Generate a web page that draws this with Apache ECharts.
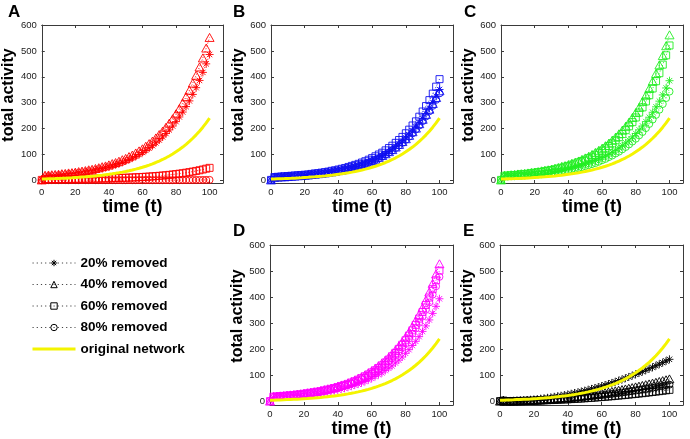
<!DOCTYPE html>
<html><head><meta charset="utf-8">
<script src="https://cdn.jsdelivr.net/npm/echarts@6/dist/echarts.min.js"></script>
<style>html,body{margin:0;padding:0;background:#fff}#c{width:690px;height:439px}</style>
</head><body><div id="c"></div>
<script>
// ---------------- data ----------------
const timeSteps = [0,2,4,6,8,10,12,14,16,18,20,22,24,26,28,30,32,34,36,38,40,42,44,46,48,50,52,54,56,58,60,62,64,66,68,70,72,74,76,78,80,82,84,86,88,90,92,94,96,98,100];
const xTickValues = [0,20,40,60,80,100];
const yTickValues = [0,100,200,300,400,500,600];
const legendNames = ['20% removed','40% removed','60% removed','80% removed'];
const originalName = 'original network';
const panelLetters = ['A','B','C','D','E'];

const original = [5.3,5.6,6.1,6.5,7.0,7.6,8.1,8.8,9.5,10.2,11.0,11.8,12.8,13.8,14.9,16.0,17.3,18.7,20.1,21.8,23.5,25.4,27.4,29.6,32.0,34.5,37.3,40.3,43.5,47.0,50.8,54.8,59.3,64.0,69.2,74.8,80.8,87.3,94.4,102.0,110.3,119.2,128.8,139.3,150.5,162.7,175.9,190.1,205.5,222.1,240.1];

const a20 = [2,17,18,19,20,21,23,24,25,27,28,30,32,34,36,38,41,44,46,50,53,57,61,65,70,75,81,87,93,100,108,116,125,134,145,156,168,181,195,210,227,245,264,285,307,332,358,386,417,450,486];
const a40 = [2,20,21,22,23,24,26,27,29,30,32,34,36,38,41,43,46,49,53,56,60,65,69,74,80,85,92,98,106,114,122,132,142,152,164,177,190,205,221,238,257,277,299,323,348,376,406,438,473,511,552];
const a60 = [2,5.0,5.1,5.1,5.2,5.3,5.4,5.6,5.7,5.8,6.0,6.1,6.3,6.5,6.7,6.9,7.1,7.4,7.7,8.0,8.3,8.6,9.0,9.4,9.9,10.3,10.8,11.4,12.0,12.6,13.3,14.1,14.9,15.8,16.8,17.8,18.9,20.1,21.4,22.9,24.4,26.0,27.8,29.8,31.9,34.1,36.6,39.2,42.1,45.2,48.5];
const a80 = [0.5,1,1,1,1,1,1,1,1,1,1,1,1,1,1,1,1,1,1,1,1,1,1,1,1,1,1,1,1,1,1,1,1,1,1,1,1,1,1,1,1,1.1,1.2,1.3,1.4,1.5,1.6,1.7,1.8,1.9,2.0];

const b20 = [2,13,13,14,15,15,16,17,18,19,20,22,23,24,26,28,29,31,34,36,38,41,44,47,51,54,58,63,67,72,78,84,90,97,104,112,121,131,141,152,164,176,190,205,222,239,258,279,301,325,351];
const b40 = [2,12,13,14,14,15,16,17,18,19,20,21,23,24,26,27,29,31,33,35,38,40,43,46,50,53,57,62,66,71,77,82,89,96,103,111,119,129,139,150,161,174,188,202,219,236,255,275,297,320,346];
const b60 = [2,13,14,15,16,17,18,19,20,21,22,23,25,27,28,30,32,34,37,39,42,45,48,52,56,60,64,69,74,80,86,93,100,107,116,125,134,145,156,168,182,196,212,228,246,266,287,310,335,362,391];
const b80 = [2,12,13,13,14,15,16,17,18,18,20,21,22,24,25,27,28,30,32,35,37,40,42,45,49,52,56,60,65,69,75,80,86,93,100,108,116,125,135,145,157,169,182,197,212,229,247,267,288,311,336];

const c20 = [2,17,18,19,19,20,21,22,23,24,26,27,28,30,32,34,35,38,40,42,45,48,51,55,58,62,67,72,77,82,88,94,101,109,117,126,135,145,156,168,181,195,210,227,244,263,284,306,330,357,385];
const c40 = [2,20,21,22,23,25,26,27,29,31,32,34,37,39,41,44,47,50,54,57,61,66,70,75,81,87,93,100,108,116,124,134,144,155,167,180,194,209,225,243,262,282,305,329,355,383,413,446,482,520,562];
const c60 = [2,18,19,20,21,22,24,25,26,28,30,32,33,36,38,40,43,46,49,53,56,61,65,70,75,80,86,92,99,107,115,124,133,143,155,167,179,194,209,225,243,262,282,305,329,355,383,414,447,483,521];
const c80 = [2,14,15,16,16,17,18,19,20,21,22,23,24,26,27,29,31,33,35,37,39,42,45,48,51,55,59,63,67,72,78,83,90,96,104,111,120,129,139,150,161,174,187,202,218,235,253,273,295,318,343];

const d20 = [2,16,17,18,19,20,21,22,23,24,25,26,28,30,31,33,35,37,40,42,45,48,51,55,59,63,67,72,77,83,89,96,103,110,119,128,137,148,159,171,185,199,215,231,249,269,290,313,338,365,394];
const d40 = [2,20,21,22,23,25,26,27,29,30,32,34,36,38,40,43,46,49,52,55,59,63,67,72,77,83,89,95,102,110,118,127,137,147,158,170,183,197,213,229,247,266,287,310,334,360,389,420,453,489,528];
const d60 = [2,19,20,21,22,23,24,25,27,28,30,32,34,36,38,40,43,46,49,52,56,60,64,68,73,78,84,90,97,104,112,120,129,139,150,161,174,187,202,218,235,253,273,294,318,343,370,399,431,465,502];
const d80 = [2,18,19,20,21,22,23,24,26,27,29,30,32,34,36,39,41,44,47,50,53,57,61,65,70,75,80,86,92,99,107,115,123,133,143,154,166,178,192,207,223,241,260,280,302,326,352,380,410,442,478];

const e20 = [2,5,2.3,2.6,3.0,3.6,4.3,5.1,6.1,7.2,8.4,9.7,11.2,12.8,14.5,16.4,18.4,20.5,22.7,25.1,27.6,30.2,33.0,35.9,38.9,42.0,45.3,48.7,52.2,55.8,59.6,63.5,67.5,71.7,76.0,80.4,84.9,89.6,94.4,99.3,104.4,109.6,114.9,120.3,125.9,131.6,137.4,143.4,149.5,155.7,162];
const e40 = [2,5,2.1,2.3,2.5,2.9,3.2,3.7,4.2,4.8,5.4,6.1,6.9,7.8,8.7,9.7,10.7,11.8,13.0,14.3,15.6,17.0,18.5,20.0,21.6,23.3,25.0,26.8,28.7,30.6,32.6,34.7,36.8,39.0,41.3,43.7,46.1,48.5,51.1,53.7,56.4,59.2,62.0,64.9,67.8,70.9,73.9,77.1,80.3,83.6,87];
const e60 = [2,4,2.1,2.2,2.3,2.4,2.6,2.8,3.1,3.4,3.7,4.1,4.5,4.9,5.4,5.9,6.4,7.0,7.6,8.2,8.9,9.6,10.3,11.1,11.9,12.8,13.6,14.5,15.5,16.5,17.5,18.5,19.6,20.7,21.9,23.1,24.3,25.6,26.8,28.2,29.5,30.9,32.3,33.8,35.3,36.8,38.4,40.0,41.6,43.3,45];
const e80 = [2,4,2.1,2.2,2.4,2.6,2.9,3.2,3.6,4.0,4.5,5.1,5.6,6.3,6.9,7.7,8.5,9.3,10.2,11.1,12.1,13.1,14.2,15.3,16.5,17.8,19.0,20.4,21.8,23.2,24.7,26.2,27.8,29.4,31.1,32.9,34.7,36.5,38.4,40.3,42.3,44.4,46.5,48.6,50.8,53.0,55.3,57.7,60.1,62.5,65];

// ---------------- layout / style ----------------
const FONT = "'Liberation Sans', Arial, Helvetica, sans-serif";
const AXIS_COLOR = '#3a3a3a';
const YELLOW = '#f4f400';
const panels = [
  {sets:[a20,a40,a60,a80], color:'#ff0000', box:{left:41, top:25, width:182, height:158}, ymin:-10, letter:{left:8, top:4}},
  {sets:[b20,b40,b60,b80], color:'#1010f0', box:{left:271, top:25, width:182, height:158}, ymin:-10, letter:{left:233, top:4}},
  {sets:[c20,c40,c60,c80], color:'#22ee22', box:{left:501, top:25, width:182, height:158}, ymin:-10, letter:{left:464, top:4}},
  {sets:[d20,d40,d60,d80], color:'#ff00ff', box:{left:270, top:245, width:183, height:160}, ymin:-13, letter:{left:233, top:223}},
  {sets:[e20,e40,e60,e80], color:'#000000', box:{left:500, top:245, width:183, height:160}, ymin:-13, letter:{left:463, top:223}}
];
const symbols = [
  {symbol:'path://M5,0V10M0,5H10M1.6,1.6L8.4,8.4M1.6,8.4L8.4,1.6', size:8},
  {symbol:'triangle', size:[9,8]},
  {symbol:'rect', size:7},
  {symbol:'circle', size:7}
];

const grids = [], xAxes = [], yAxes = [], series = [], titles = [];
panels.forEach((p, i) => {
  grids.push(Object.assign({containLabel:false}, p.box));
  titles.push({text: panelLetters[i], left: p.letter.left, top: p.letter.top, padding: 0,
    textStyle:{fontSize:17, fontWeight:'bold', color:'#000', fontFamily:FONT}});
  const tickStyle = {show:true, inside:true, length:3, lineStyle:{color:AXIS_COLOR, width:1}};
  const lineStyle = {show:true, onZero:false, lineStyle:{color:AXIS_COLOR, width:1}};
  xAxes.push({gridIndex:i, type:'value', min:0, max:108, position:'bottom',
    axisLine:lineStyle, axisTick:Object.assign({customValues:xTickValues}, tickStyle),
    axisLabel:{customValues:xTickValues, fontSize:9.5, color:'#1a1a1a', margin:4, fontFamily:FONT},
    splitLine:{show:false},
    name:'time (t)', nameLocation:'middle', nameGap:9,
    nameTextStyle:{fontSize:18, fontWeight:'bold', color:'#000', fontFamily:FONT}});
  xAxes.push({gridIndex:i, type:'value', min:0, max:108, position:'top',
    axisLine:lineStyle, axisTick:Object.assign({customValues:xTickValues}, tickStyle),
    axisLabel:{show:false}, splitLine:{show:false}});
  yAxes.push({gridIndex:i, type:'value', min:p.ymin, max:600, position:'left',
    axisLine:lineStyle, axisTick:Object.assign({customValues:yTickValues}, tickStyle),
    axisLabel:{customValues:yTickValues, fontSize:9.5, color:'#1a1a1a', margin:5, fontFamily:FONT},
    splitLine:{show:false},
    name:'total activity', nameLocation:'middle', nameGap:20,
    nameTextStyle:{fontSize:16, fontWeight:'bold', color:'#000', fontFamily:FONT, padding:[0,0,0,18]}});
  yAxes.push({gridIndex:i, type:'value', min:p.ymin, max:600, position:'right',
    axisLine:lineStyle, axisTick:Object.assign({customValues:yTickValues}, tickStyle),
    axisLabel:{show:false}, splitLine:{show:false}});

  p.sets.forEach((vals, k) => {
    series.push({
      type:'line',
      name: i === 4 ? legendNames[k] : panelLetters[i] + ' ' + legendNames[k],
      xAxisIndex: 2*i, yAxisIndex: 2*i,
      data: timeSteps.map((tv, j) => [tv, vals[j]]),
      symbol: symbols[k].symbol, symbolSize: symbols[k].size, showSymbol:true,
      itemStyle:{color:'rgba(0,0,0,0)', borderColor:p.color, borderWidth:0.9},
      lineStyle:{color:p.color, width:1, type:[1,2]},
      emphasis:{disabled:true}, silent:true, z:2
    });
  });
  series.push({
    type:'line', name: originalName,
    xAxisIndex: 2*i, yAxisIndex: 2*i,
    data: timeSteps.map((tv, j) => [tv, original[j]]),
    symbol:'none', showSymbol:false,
    itemStyle:{color:YELLOW},
    lineStyle:{color:YELLOW, width:3},
    emphasis:{disabled:true}, silent:true, z:3
  });
});

const option = {
  animation:false,
  backgroundColor:'#fff',
  title: titles,
  grid: grids,
  xAxis: xAxes,
  yAxis: yAxes,
  legend: {
    orient:'vertical', left:32, top:256, padding:0, itemWidth:43, itemHeight:8, itemGap:7.5,
    selectedMode:false,
    textStyle:{fontSize:13.5, fontWeight:'bold', color:'#000', fontFamily:FONT},
    itemStyle:{borderWidth:1},
    lineStyle:{type:[1.2,3], width:1, color:'#444'},
    data: legendNames.concat([{name: originalName, icon:'path://M0,0H42V3H0Z', itemStyle:{color:YELLOW}}])
  },
  series: series
};
const chart = echarts.init(document.getElementById('c'), null, {renderer:'canvas'});
chart.setOption(option);
</script></body></html>
